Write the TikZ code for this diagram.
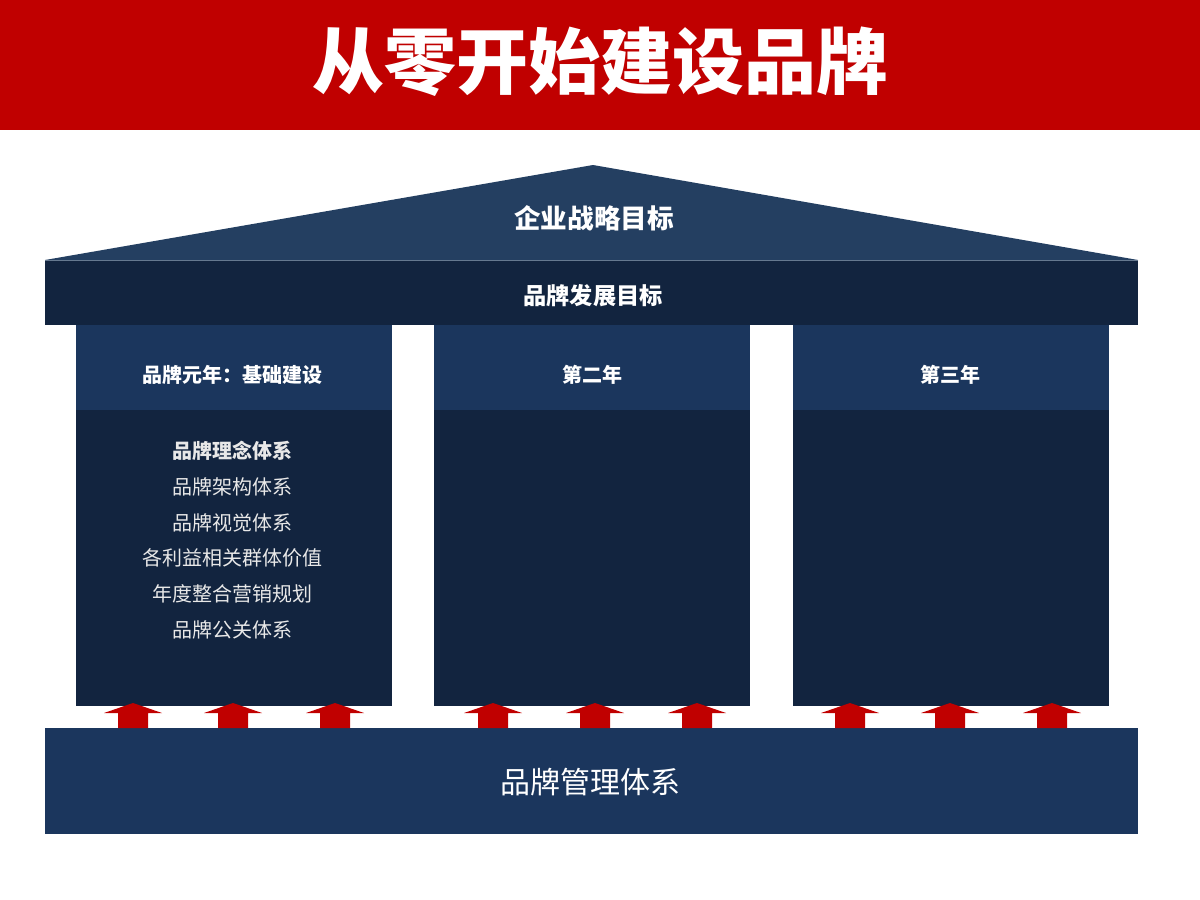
\documentclass[tikz,border=0pt]{standalone}
\usepackage{fontspec}
\setmainfont{Noto Sans CJK SC}
\begin{document}
\begin{tikzpicture}[x=0.5pt,y=-0.5pt,
  every node/.style={inner sep=0pt, outer sep=0pt},
  box/.style={rectangle, draw=none},
  hdr/.style={box, fill=hdrblue, minimum width=158pt, minimum height=42.5pt},
  hdrtext/.style={text=white, font=\bfseries\fontsize{10}{12}\selectfont},
  body/.style={box, fill=navy, minimum width=158pt, minimum height=148pt},
  item/.style={text=itemgray, font=\fontsize{10}{12}\selectfont},
  uparrow/.style={fill=arrowred, draw=none}
]
\definecolor{titlered}{HTML}{C00000}
\definecolor{arrowred}{HTML}{C00000}
\definecolor{roofblue}{HTML}{243F61}
\definecolor{navy}{HTML}{12243F}
\definecolor{hdrblue}{HTML}{1B365D}
\definecolor{itemgray}{HTML}{E8E8E8}
\useasboundingbox (0,0) rectangle (1200,900);
\fill[white] (0,0) rectangle (1200,900);
% title bar
\node[box, fill=titlered, minimum width=600pt, minimum height=65pt, anchor=north west] (titlebar) at (0,0) {};
\node[text=white, font=\bfseries\fontsize{36}{40}\selectfont] (title) at (600,62) {从零开始建设品牌};
% roof
\coordinate (apex) at (593,165);
\coordinate (rl) at (45,260);
\coordinate (rr) at (1138,260);
\fill[roofblue] (apex) -- (rr) -- (rl) -- cycle;
\node[text=white, font=\bfseries\fontsize{13.3}{15}\selectfont] (roof) at (594,218) {企业战略目标};
% beam
\node[box, fill=navy, minimum width=546.5pt, minimum height=32.5pt] (beam) at (591.5,292.5) {};
\draw[white!30!roofblue, line width=0.4pt] (rl) -- (rr);
\node[text=white, font=\bfseries\fontsize{11.6}{14}\selectfont] (beamtext) at (593,296) {品牌发展目标};
% columns
\node[body] (b1) at (233.5,558) {};
\node[body] (b2) at (592,558) {};
\node[body] (b3) at (951,558) {};
\node[hdr] (h1) at (233.5,367.5) {};
\node[hdr] (h2) at (592,367.5) {};
\node[hdr] (h3) at (951,367.5) {};
\node[hdrtext] (h1t) at (232,375) {品牌元年：基础建设};
\node[hdrtext] (h2t) at (592,375) {第二年};
\node[hdrtext] (h3t) at (950,375) {第三年};
% list
\node[item, font=\bfseries\fontsize{10}{12}\selectfont] (l1) at (232,451) {品牌理念体系};
\node[item] (l2) at (232,487) {品牌架构体系};
\node[item] (l3) at (232,523) {品牌视觉体系};
\node[item] (l4) at (232,558) {各利益相关群体价值};
\node[item] (l5) at (232,594) {年度整合营销规划};
\node[item] (l6) at (232,630) {品牌公关体系};
% base
\node[box, fill=hdrblue, minimum width=546.5pt, minimum height=53pt] (base) at (591.5,781) {};
\node[text=white, font=\fontsize{15}{18}\selectfont] (basetext) at (590,782) {品牌管理体系};
% arrows
\foreach \x in {133,233,335,493,595,697,850,950,1052}{
  \fill[uparrow] (\x,703) -- (\x+29,713) -- (\x+15,713) -- (\x+15,728) -- (\x-15,728) -- (\x-15,713) -- (\x-29,713) -- cycle;
}
\end{tikzpicture}
\end{document}
